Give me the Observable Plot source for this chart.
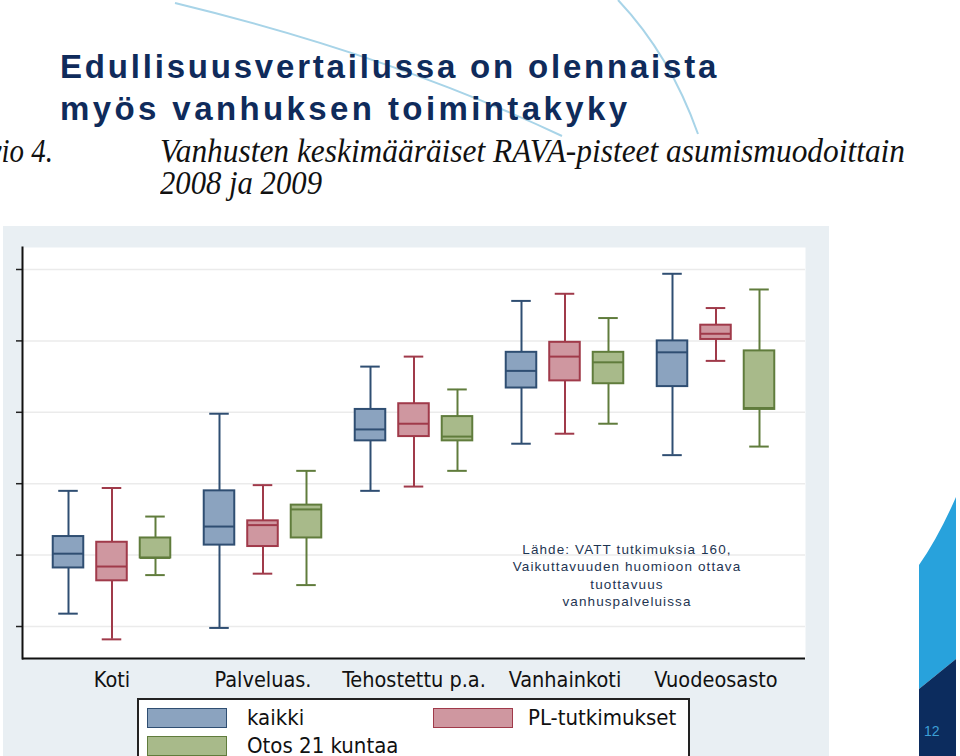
<!DOCTYPE html>
<html>
<head>
<meta charset="utf-8">
<script src="https://cdn.jsdelivr.net/npm/d3@7"></script>
<script src="https://cdn.jsdelivr.net/npm/@observablehq/plot@0.6"></script>
<style>
  html, body { margin: 0; padding: 0; background: #fff; }
  body { width: 960px; height: 756px; overflow: hidden; position: relative; font-family: "Liberation Sans", Arial, sans-serif; }
  .abs { position: absolute; white-space: nowrap; }
  .title { color: #0f2b5b; font-weight: bold; font-size: 33px; line-height: 1; }
  .sub { font-family: "Liberation Serif", "Times New Roman", serif; font-style: italic; font-size: 33px; color: #111; line-height: 30px; transform-origin: 0 0; }
  .narrow { font-family: "Liberation Sans Narrow", "DejaVu Sans Condensed", "Liberation Sans", sans-serif; }
  #chart { position: absolute; left: 3px; top: 226px; }
  #legend { position: absolute; left: 137px; top: 698px; width: 553px; height: 80px; background: #fff; border: 2px solid #222; box-sizing: border-box; }
  .sw { position: absolute; width: 78px; height: 18px; border: 1.5px solid; }
  .lt { position: absolute; font-size: 22px; color: #111; line-height: 1; }
  #note { position: absolute; left: 470px; top: 541px; width: 314px; text-align: center; font-size: 13.5px; letter-spacing: 1.1px; line-height: 17.3px; color: #1e3552; }
</style>
</head>
<body>
<svg class="abs" style="left:0;top:0" width="960" height="200">
  <path d="M175,3 Q390,55 562,136" fill="none" stroke="#a8d4e8" stroke-width="2"/>
  <path d="M618,0 Q670,55 698,134" fill="none" stroke="#a8d4e8" stroke-width="2"/>
</svg>
<div class="abs title" id="t1" style="left:60px;top:50px;letter-spacing:2.8px">Edullisuusvertailussa on olennaista</div>
<div class="abs title" id="t2" style="left:60px;top:92px;letter-spacing:3.4px">myös vanhuksen toimintakyky</div>
<div class="abs sub" id="kuvio" style="left:-45px;top:136px">Kuvio 4.</div>
<div class="abs sub" id="s1" style="left:160px;top:136px">Vanhusten keskimääräiset RAVA-pisteet asumismuodoittain</div>
<div class="abs sub" id="s2" style="left:160px;top:168px">2008 ja 2009</div>

<div id="chart"></div>
<div id="note">Lähde: VATT tutkimuksia 160,<br>Vaikuttavuuden huomioon ottava<br>tuottavuus<br>vanhuspalveluissa</div>
<div id="legend"></div>

<svg class="abs" style="left:0;top:0" width="960" height="756">
  <path d="M919,565 Q938,538 956,497 L956,659 L919,689 Z" fill="#28a2dc"/>
  <path d="M919,689 L956,659 L956,756 L919,756 Z" fill="#0c2c5e"/>
  <text x="924" y="736" font-size="14" fill="#3d9fd6" font-family="Liberation Sans, Arial, sans-serif">12</text>
</svg>

<script>
// ---- data (RAVA points: [min, q1, median, q3, max] per housing type) ----
const groups = ["Koti", "Palveluas.", "Tehostettu p.a.", "Vanhainkoti", "Vuodeosasto"];
const seriesNames = ["kaikki", "PL-tutkimukset", "Otos 21 kuntaa"];
const kaikki = [
  [1.09, 1.41, 1.51, 1.63, 1.95],
  [0.99, 1.57, 1.70, 1.95, 2.49],
  [1.95, 2.30, 2.38, 2.52, 2.82],
  [2.28, 2.67, 2.79, 2.92, 3.28],
  [2.20, 2.68, 2.92, 3.00, 3.47]
];
const plTutkimukset = [
  [0.91, 1.32, 1.42, 1.59, 1.97],
  [1.37, 1.56, 1.71, 1.74, 1.99],
  [1.98, 2.33, 2.42, 2.56, 2.89],
  [2.35, 2.72, 2.89, 2.99, 3.33],
  [2.86, 3.01, 3.05, 3.11, 3.23]
];
const otos21 = [
  [1.36, 1.48, 1.48, 1.62, 1.77],
  [1.29, 1.62, 1.82, 1.85, 2.09],
  [2.09, 2.30, 2.33, 2.47, 2.66],
  [2.42, 2.70, 2.85, 2.92, 3.16],
  [2.26, 2.52, 2.53, 2.93, 3.36]
];
const yTicks = [1, 1.5, 2, 2.5, 3, 3.5];
const yDomain = [0.776, 3.654];

// ---- styles ----
const fills = ["#8ba3bf", "#cf97a0", "#a8ba8a"];
const strokes = ["#2f4e72", "#a03a4a", "#607c3c"];
const offsets = [-43.5, 0, 43.5];

const W = 826, H = 530;
const mL = 19, mR = 24, mT = 21, mB = 98;
const pad = 0.16;
const step = (W - mL - mR) / (groups.length - pad + 2 * pad);
const bw = step * (1 - pad);
const boxInset = (bw - 31) / 2;
const capInset = (bw - 20) / 2;

const allSeries = [kaikki, plTutkimukset, otos21];
const marks = [
  Plot.frame({fill: "white", stroke: "none"}),
  Plot.ruleY(yTicks, {stroke: "#ebebeb", strokeWidth: 1.5}),
  Plot.axisY(yTicks, {tickSize: 6, tickFormat: () => "", stroke: "#222", strokeWidth: 1.5}),
  Plot.axisX({tickSize: 0, tickPadding: 13, fontSize: 21.5, fontFamily: "Liberation Sans Narrow, DejaVu Sans Condensed, sans-serif", fill: "#111"})
];
allSeries.forEach((arr, i) => {
  const rows = groups.map((g, j) => ({group: g, min: arr[j][0], q1: arr[j][1], med: arr[j][2], q3: arr[j][3], max: arr[j][4]}));
  const common = {x: "group", dx: offsets[i], stroke: strokes[i], strokeWidth: 2};
  marks.push(
    Plot.ruleX(rows, {...common, y1: "min", y2: "q1"}),
    Plot.ruleX(rows, {...common, y1: "q3", y2: "max"}),
    Plot.tickY(rows, {...common, y: "min", insetLeft: capInset, insetRight: capInset}),
    Plot.tickY(rows, {...common, y: "max", insetLeft: capInset, insetRight: capInset}),
    Plot.barY(rows, {...common, y1: "q1", y2: "q3", fill: fills[i], insetLeft: boxInset, insetRight: boxInset}),
    Plot.tickY(rows, {...common, y: "med", insetLeft: boxInset, insetRight: boxInset})
  );
});
marks.push(
  Plot.ruleY([yDomain[0]], {stroke: "#111", strokeWidth: 2}),
  Plot.frame({anchor: "left", stroke: "#111", strokeWidth: 2})
);

const chart = Plot.plot({
  width: W, height: H,
  marginLeft: mL, marginRight: mR, marginTop: mT, marginBottom: mB,
  style: {background: "#e9eff3", overflow: "visible"},
  x: {type: "band", domain: groups, padding: pad, label: null},
  y: {domain: yDomain, label: null},
  marks
});
document.getElementById("chart").appendChild(chart);

// ---- legend ----
const legend = document.getElementById("legend");
const legendPos = [[8, 8], [294, 8], [8, 36]];
seriesNames.forEach((name, i) => {
  const sw = document.createElement("div");
  sw.className = "sw";
  sw.style.left = legendPos[i][0] + "px";
  sw.style.top = legendPos[i][1] + "px";
  sw.style.background = fills[i];
  sw.style.borderColor = strokes[i];
  legend.appendChild(sw);
  const t = document.createElement("div");
  t.className = "lt narrow";
  t.textContent = name;
  t.style.left = (legendPos[i][0] + (i === 1 ? 95 : 100)) + "px";
  t.style.top = (legendPos[i][1] - 1) + "px";
  legend.appendChild(t);
});

// ---- fit subtitle widths (the source image is horizontally squeezed) ----
function fitWidth(id, target) {
  const el = document.getElementById(id);
  const w = el.getBoundingClientRect().width;
  const s = target / w;
  el.style.transform = `scaleX(${s})`;
  return s;
}
const sc = fitWidth("s1", 745);
fitWidth("s2", 162);
document.getElementById("kuvio").style.transform = `scaleX(${sc * 0.92})`;
</script>
</body>
</html>
